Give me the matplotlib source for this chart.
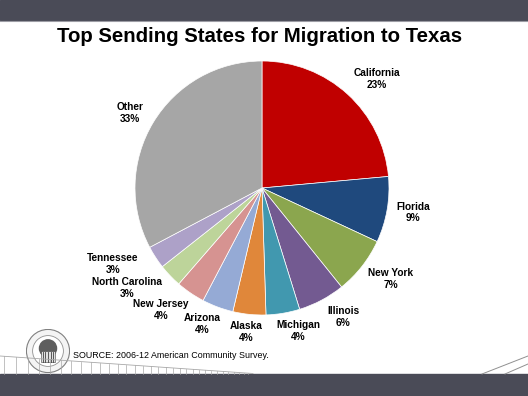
import matplotlib
matplotlib.use("Agg")
import matplotlib.pyplot as plt
from matplotlib.patches import Rectangle, Circle
from matplotlib.lines import Line2D

plt.rcParams["font.family"] = ["Liberation Sans", "DejaVu Sans"]

# shares; printed labels as shown on the chart
states = ["California", "Florida", "New York", "Illinois", "Michigan", "Alaska",
          "Arizona", "New Jersey", "North Carolina", "Tennessee", "Other"]
shares = [23.6, 8.4, 7.3, 6.0, 4.3, 4.2, 4.0, 3.7, 3.0, 2.9, 32.8]
pct_labels = [23, 9, 7, 6, 4, 4, 4, 4, 3, 3, 33]
colors = ["#C00000", "#1F497D", "#8BA64E", "#735A91", "#4198AF", "#E0873A",
          "#95AAD5", "#D69391", "#BDD49A", "#ADA1C8", "#A6A6A6"]

W, H = 528, 396
fig = plt.figure(figsize=(W / 100, H / 100), dpi=100)


def fx(px):
    return px / W


def fy(py):
    return 1 - py / H


# header and footer bars
bar = "#4A4B57"
fig.patches.append(Rectangle((0, fy(20)), 1, 20 / H, transform=fig.transFigure,
                             color=bar, zorder=0))
fig.lines.append(Line2D([0, 1], [fy(20.5), fy(20.5)], transform=fig.transFigure,
                        color="#9C9CA4", lw=0.8))
fig.patches.append(Rectangle((0, 0), 1, 22 / H, transform=fig.transFigure,
                             color=bar, zorder=0))

# fence decoration at bottom left
fence = "#A8A8A8"
fig.lines.append(Line2D([fx(0), fx(253)], [fy(356), fy(373.5)],
                        transform=fig.transFigure, color=fence, lw=0.6))
x = 4.0
step = 12.0
while x < 250:
    ytop = 356 + (373.5 - 356) * x / 253
    fig.lines.append(Line2D([fx(x), fx(x)], [fy(ytop), fy(374)],
                            transform=fig.transFigure, color=fence, lw=0.5))
    x += step
    step *= 0.97
# diagonal lines at bottom right
fig.lines.append(Line2D([fx(482), fx(528)], [fy(374), fy(356)],
                        transform=fig.transFigure, color="#909090", lw=0.7))
fig.lines.append(Line2D([fx(505), fx(528)], [fy(374), fy(364)],
                        transform=fig.transFigure, color="#909090", lw=0.7))

# seal
sax = fig.add_axes([fx(26), fy(373), 44 / W, 44 / H])
sax.set_xlim(-1, 1)
sax.set_ylim(-1, 1)
sax.set_aspect("equal")
sax.axis("off")
sax.add_patch(Circle((0, 0), 0.98, facecolor="#F4F4F4", edgecolor="#808080", lw=0.8))
sax.add_patch(Circle((0, 0), 0.70, facecolor="white", edgecolor="#909090", lw=0.6))
sax.add_patch(Circle((0, 0.12), 0.42, facecolor="#5E5E5E", edgecolor="none"))
sax.add_patch(Rectangle((-0.32, -0.5), 0.64, 0.5, facecolor="#E0E0E0",
                        edgecolor="#404040", lw=0.4))
for i in range(5):
    sax.plot([-0.24 + i * 0.12] * 2, [-0.48, -0.05], color="#404040", lw=0.6)

# title and source
fig.text(fx(260), fy(36), "Top Sending States for Migration to Texas",
         ha="center", va="center", fontsize=14.7, fontweight="bold", color="black")
fig.text(fx(73), fy(356), "SOURCE: 2006-12 American Community Survey.",
         ha="left", va="center", fontsize=6.4, color="black")

# pie
ax = fig.add_axes([fx(135), fy(315), 254 / W, 254 / H])
wedges, _ = ax.pie(shares, colors=colors, startangle=90, counterclock=False,
                   wedgeprops=dict(edgecolor="white", linewidth=0.5))

# label centres in pie-radius units (Excel best-fit placement)
label_xy = [(0.906, 0.858), (1.19, -0.19), (1.016, -0.717), (0.638, -1.016),
            (0.283, -1.126), (-0.126, -1.134), (-0.472, -1.071), (-0.795, -0.961),
            (-1.063, -0.787), (-1.173, -0.598), (-1.039, 0.591)]
for s, p, (lx, ly) in zip(states, pct_labels, label_xy):
    ax.text(lx, ly, f"{s}\n{p}%", ha="center", va="center", fontsize=7.3,
            fontweight="bold", linespacing=1.15, clip_on=False)
ax.set_xlim(-1, 1)
ax.set_ylim(-1, 1)
ax.set_aspect("equal")

fig.savefig("out.png", dpi=100)
